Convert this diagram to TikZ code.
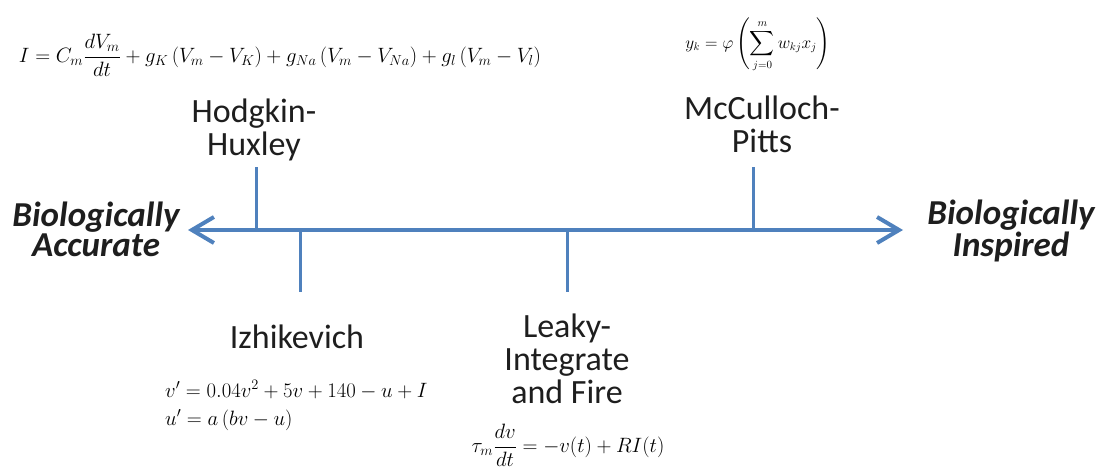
\documentclass[tikz,border=0pt]{standalone}
\usepackage{amsmath}
\usepackage{fontspec}
\setmainfont{Carlito}
\usepackage{tikz}
\usetikzlibrary{arrows.meta, positioning}
\definecolor{axisblue}{RGB}{79,129,189}
\definecolor{labelgray}{RGB}{30,30,30}

\begin{document}
\begin{tikzpicture}[
    x=1pt, y=-1pt,
    model node/.style={align=center,anchor=base,inner sep=0pt,text=labelgray,
        font=\fontsize{34}{33}\selectfont},
    end node/.style={align=center,anchor=base,inner sep=0pt,text=labelgray,
        font=\fontsize{35}{30}\selectfont\bfseries\itshape},
    eq node/.style={inner sep=0pt,text=black},
    axis/.style={draw=axisblue,line width=4pt,{Straight Barb[length=22pt,width=26pt,line width=4pt]}-{Straight Barb[length=22pt,width=26pt,line width=4pt]}},
    tick/.style={draw=axisblue,line width=3pt}
]
\useasboundingbox (0,0) rectangle (1099,475);

% Axis
\coordinate (accurate) at (188,230);
\coordinate (inspired) at (903,230);
\draw[axis] (accurate) -- (inspired);

\node[end node] (bioacc) at (96,256) {Biologically\\Accurate};
\node[end node] (bioins) at (1011,256) {Biologically\\Inspired};

% Models above the axis
\coordinate (hhaxis) at (256,230);
\coordinate (hhtop) at (256,167);
\coordinate (mpaxis) at (753,230);
\coordinate (mptop) at (753,167);
\draw[tick] (hhaxis) -- (hhtop);
\draw[tick] (mpaxis) -- (mptop);

\node[model node] (hh) at (254,155) {Hodgkin-\\Huxley};
\node[model node] (mp) at (762,152) {McCulloch-\\Pitts};

% Models below the axis
\coordinate (izaxis) at (300,230);
\coordinate (izbot) at (300,292);
\coordinate (lifaxis) at (567,230);
\coordinate (lifbot) at (567,292);
\draw[tick] (izaxis) -- (izbot);
\draw[tick] (lifaxis) -- (lifbot);

\node[model node] (iz) at (297,348) {Izhikevich};
\node[model node] (lif) at (567,403) {Leaky-\\Integrate\\and Fire};

% Equations
\node[eq node,font=\fontsize{20.2}{24}\selectfont] (hheq) at (280,55)
    {$I = C_m\dfrac{dV_m}{dt} + g_K\left(V_m - V_K\right) + g_{Na}\left(V_m - V_{Na}\right) + g_l\left(V_m - V_l\right)$};
\node[eq node,font=\fontsize{16}{20}\selectfont] (mpeq) at (758,45)
    {$y_k = \varphi\left(\displaystyle\sum_{j=0}^{m} w_{kj}x_j\right)$};
\node[eq node,font=\fontsize{21}{33}\selectfont,align=left,anchor=base west] (izeq) at (165,425)
    {$v' = 0.04v^2 + 5v + 140 - u + I$\\[-5pt]$u' = a\left(bv - u\right)$};
\node[eq node,font=\fontsize{20.5}{24}\selectfont] (lifeq) at (568,445)
    {$\tau_m\dfrac{dv}{dt} = -v(t) + RI(t)$};

\end{tikzpicture}
\end{document}
